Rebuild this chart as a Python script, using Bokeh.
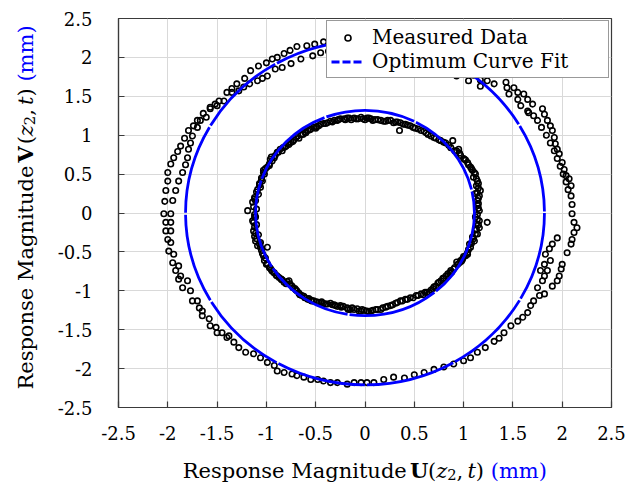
import math
from bokeh.plotting import figure
from bokeh.layouts import column, row
from bokeh.models import ColumnDataSource, FixedTicker, Label, Legend, LegendItem, Range1d
from bokeh.embed import file_html
from bokeh.resources import INLINE

# ---------------- data ----------------
tick_values = [-2.5, -2.0, -1.5, -1.0, -0.5, 0.0, 0.5, 1.0, 1.5, 2.0, 2.5]
tick_labels = ["-2.5", "-2", "-1.5", "-1", "-0.5", "0", "0.5", "1", "1.5", "2", "2.5"]

# measured data, outer (larger) orbit
outer_u = [
    -0.42, -0.51, -0.59, -0.69, -0.76, -0.82, -0.89, -0.94, -1.00, -1.08, -1.16, -1.22, -1.30, -1.35, -1.40, -1.48,
    -1.52, -1.57, -1.64, -1.70, -1.74, -1.79, -1.83, -1.87, -1.90, -1.94, -1.97, -2.00, -2.00, -2.02, -2.03, -2.04,
    -0.45, -0.53, -0.65, -0.75, -0.84, -0.91, -0.99, -1.04, -1.09, -1.17, -1.23, -1.28, -1.35, -1.43, -1.50, -1.57,
    -1.61, -1.67, -1.70, -1.75, -1.77, -1.79, -1.80, -1.82, -1.85, -1.89, -1.92, -1.95, -1.97,
    -0.33, -0.24, -0.12, 0.00, 0.12, 0.25, 0.38, 0.50, 0.62, 0.75, 0.88, 1.00, 1.10, 1.17,
    -0.37, -0.25, -0.13, 0.00, 0.13, 0.26, 0.40, 0.53, 0.66, 0.80, 0.93, 1.05, 1.17,
    1.24, 1.31, 1.43, 1.44, 1.51, 1.55, 1.61, 1.65, 1.70, 1.46, 1.55, 1.58, 1.65, 1.66, 1.71, 1.75,
    1.80, 1.82, 1.85, 1.88, 1.90, 1.92, 1.93, 1.95, 1.97, 2.00, 2.02, 2.04, 2.07, 2.09, 2.09, 2.10,
    2.10, 2.12, 2.15, 2.12, 2.10, 2.09, 2.05,
    1.79, 1.84, 1.88, 1.92, 1.95, 1.98, 2.01, 2.04, 2.06,
    1.95, 1.90, 1.87, 1.83, 1.88, 1.82, 1.78, 2.00, 1.99, 1.97, 1.95, 1.90, 1.85, 1.82, 1.80, 1.75,
    1.82, 1.77, 1.71, 1.68, 1.65, 1.60, 1.55, 1.48, 1.41, 1.36, 1.31, 1.22, 1.14, 1.07, 1.00, 0.90,
    0.80, 0.70, 0.60, 0.50, 0.40, 0.29, 0.19, 0.09,
    -0.42, -0.35, -0.28, -0.18, -0.11, -0.04, 0.02,
    -0.48, -0.55, -0.62, -0.69, -0.74, -0.82, -0.89, -0.92, -0.99, -1.06, -1.13, -1.21, -1.28, -1.33, -1.38, -1.40,
    -1.45, -1.50, -1.51, -1.57, -1.58, -1.65, -1.65, -1.68, -1.70, -1.75, -1.77, -1.85, -1.80, -1.89, -1.87, -1.92,
    -1.89, -1.95, -1.94, -1.99, -1.97, -2.00, -1.97, -2.02, -1.97, -2.02,
]
outer_v = [
    2.20, 2.17, 2.15, 2.14, 2.09, 2.05, 2.00, 1.98, 1.93, 1.89, 1.83, 1.73, 1.66, 1.60, 1.55, 1.44,
    1.40, 1.36, 1.28, 1.19, 1.12, 1.06, 0.96, 0.86, 0.79, 0.71, 0.63, 0.52, 0.41, 0.29, 0.15, -0.01,
    2.06, 2.02, 1.98, 1.92, 1.87, 1.85, 1.76, 1.73, 1.70, 1.66, 1.62, 1.57, 1.55, 1.44, 1.38, 1.34,
    1.23, 1.19, 1.10, 0.99, 0.90, 0.82, 0.71, 0.62, 0.52, 0.41, 0.29, 0.16, -0.01,
    2.21, 2.22, 2.22, 2.21, 2.19, 2.16, 2.12, 2.08, 2.03, 1.97, 1.90, 1.83, 1.77, 1.71,
    2.08, 2.10, 2.10, 2.09, 2.07, 2.04, 1.99, 1.95, 1.89, 1.82, 1.76, 1.70, 1.63,
    1.70, 1.66, 1.68, 1.61, 1.61, 1.55, 1.53, 1.46, 1.40, 1.53, 1.46, 1.38, 1.31, 1.29, 1.25, 1.19,
    1.34, 1.27, 1.19, 1.12, 1.06, 0.97, 0.89, 0.82, 0.76, 0.65, 0.56, 0.48, 0.44, 0.35, 0.22, 0.11,
    -0.01, -0.12, -0.19, -0.25, -0.34, -0.40, -0.51,
    1.10, 1.00, 0.90, 0.80, 0.70, 0.60, 0.50, 0.40, 0.30,
    -0.32, -0.40, -0.46, -0.53, -0.61, -0.66, -0.74, -0.66, -0.72, -0.81, -0.87, -0.94, -0.74, -0.81, -0.87, -0.96,
    -1.04, -1.06, -1.13, -1.19, -1.28, -1.34, -1.39, -1.45, -1.54, -1.61, -1.65, -1.73, -1.79, -1.86, -1.90, -1.94,
    -1.98, -2.01, -2.05, -2.08, -2.12, -2.11, -2.14, -2.18,
    -2.16, -2.18, -2.18, -2.20, -2.18, -2.18, -2.18,
    -2.14, -2.14, -2.11, -2.09, -2.07, -2.05, -2.03, -1.96, -1.92, -1.86, -1.81, -1.79, -1.73, -1.66, -1.58, -1.60,
    -1.54, -1.54, -1.47, -1.45, -1.36, -1.32, -1.26, -1.22, -1.13, -1.13, -1.00, -0.96, -0.87, -0.85, -0.81, -0.74,
    -0.68, -0.64, -0.53, -0.49, -0.38, -0.34, -0.23, -0.23, -0.12, -0.12,
]

# measured data, inner (smaller) orbit: edges of the band
inner_u = [
    -1.19, -1.14, -1.11, -1.08, -1.06, -1.04, -1.02, -0.99, -0.94, -0.91, -0.86, -0.80, -0.75, -0.70, -0.65, -0.58,
    -0.52, -0.45, -0.38, -0.31, -0.25, -0.18, -0.11, -0.04, 0.02,
    0.06, 0.16, 0.26, 0.35, 0.36, 0.46, 0.57, 0.67, 0.77, 0.89, 0.87, 0.95, 0.97, 1.04, 1.07, 1.12,
    1.14, 1.17, 1.16, 1.14, 1.16, 1.16, 1.24, 1.16, 1.14, 1.11, 1.07, 1.04, 0.97, 0.90, 0.84,
    1.04, 0.99, 0.94, 0.87, 0.82, 0.77, 0.72, 0.65, 0.57, 0.46, 0.36, 0.26, 0.16, 0.06,
    0.02, -0.04, -0.11, -0.18, -0.25, -0.31, -0.38, -0.45, -0.52, -0.58, -0.64, -0.69, -0.74, -0.77, -0.82, -0.87,
    -0.92, -0.97, -1.02, -0.99, -1.06, -1.11, -1.13, -1.14,
    -1.10, -1.12, -1.10, -1.08, -1.06, -1.09, -1.05, -1.03, -0.97, -0.95, -0.89, -0.83, -0.78, -0.72, -0.68, -0.61,
    -0.55, -0.49, -0.42, -0.35, -0.28, -0.21, -0.14, -0.07, 0.00, 0.10, 0.21, 0.31, 0.41, 0.51, 0.62, 0.72,
    0.82, 0.93, 1.00, 1.02, 1.09, 1.10, 1.13, 1.12, 1.14, 1.12, 1.13, 1.12, 1.09, 1.06, 1.00, 0.93,
    0.86, 0.79, 0.74, 0.69, 0.61, 0.52, 0.41, 0.31, 0.21, 0.11, -0.01, -0.08, -0.15, -0.22, -0.28, -0.35,
    -0.42, -0.49, -0.55, -0.61, -0.67, -0.71, -0.80, -0.85, -0.90, -0.95, -1.00, -1.04, -1.09, -1.12, -1.11, -1.12,
    -1.07,
]
inner_v = [
    0.03, 0.14, 0.16, 0.24, 0.33, 0.41, 0.50, 0.59, 0.67, 0.74, 0.82, 0.86, 0.91, 0.97, 1.01, 1.06,
    1.10, 1.14, 1.16, 1.19, 1.21, 1.22, 1.22, 1.23, 1.22,
    1.21, 1.19, 1.19, 1.06, 1.16, 1.12, 1.06, 0.99, 0.93, 0.93, 0.84, 0.82, 0.74, 0.65, 0.59, 0.50,
    0.41, 0.29, 0.22, 0.16, 0.03, -0.10, -0.12, -0.19, -0.27, -0.36, -0.44, -0.53, -0.61, -0.72, -0.81,
    -0.51, -0.59, -0.66, -0.74, -0.81, -0.87, -0.94, -1.02, -1.04, -1.09, -1.13, -1.19, -1.24, -1.26,
    -1.26, -1.26, -1.24, -1.22, -1.19, -1.18, -1.17, -1.15, -1.13, -1.11, -1.06, -1.00, -0.94, -0.87, -0.89, -0.83,
    -0.77, -0.70, -0.61, -0.44, -0.44, -0.36, -0.23, -0.10,
    0.05, -0.05, -0.15, -0.28, -0.38, 0.30, 0.45, 0.55, 0.63, 0.72, 0.78, 0.84, 0.89, 0.94, 0.99, 1.04,
    1.08, 1.11, 1.15, 1.18, 1.19, 1.21, 1.20, 1.21, 1.20, 1.20, 1.18, 1.17, 1.14, 1.09, 1.03, 0.96,
    0.90, 0.80, 0.70, 0.68, 0.55, 0.46, 0.35, 0.25, 0.10, -0.05, -0.14, -0.22, -0.31, -0.40, -0.56, -0.63,
    -0.77, -0.84, -0.90, -0.97, -1.02, -1.06, -1.11, -1.16, -1.21, -1.24, -1.25, -1.23, -1.24, -1.20, -1.20, -1.16,
    -1.16, -1.14, -1.12, -1.09, -1.03, -0.97, -0.91, -0.85, -0.80, -0.73, -0.66, -0.52, -0.42, -0.30, -0.05, 0.18,
    0.38,
]

# measured data, inner orbit: middle of the band
inner_mid_u = [
    -1.13, -1.12, -1.10, -1.07, -1.05, -1.03, -1.01, -0.97, -0.96, -0.92,
    -0.88, -0.84, -0.81, -0.77, -0.73, -0.67, -0.63, -0.60, -0.56, -0.50,
    -0.47, -0.40, -0.33, -0.27, -0.20, -0.16, -0.09, -0.02, 0.04, 0.08,
    0.13, 0.19, 0.23, 0.29, 0.33, 0.39, 0.43, 0.49, 0.54, 0.60,
    0.64, 0.70, 0.75, 0.80, 0.85, 0.91, 0.96, 1.01, 1.05, 1.08,
    1.11, 1.13, 1.15, 1.15, 1.14, 1.15, 1.15, 1.15, 1.14, 1.14,
    1.15, 1.13, 1.12, 1.10, 1.08, 1.05, 1.02, 0.98, 0.96, 0.91,
    0.88, 0.84, 0.80, 0.75, 0.70, 0.67, 0.63, 0.59, 0.54, 0.49,
    0.43, 0.38, 0.33, 0.28, 0.23, 0.18, 0.13, 0.08, 0.04, -0.03,
    -0.06, -0.13, -0.17, -0.24, -0.30, -0.33, -0.40, -0.44, -0.47, -0.54,
    -0.57, -0.62, -0.66, -0.70, -0.73, -0.76, -0.79, -0.84, -0.89, -0.94,
    -0.96, -0.99, -1.01, -1.03, -1.05, -1.07, -1.10, -1.11, -1.12, -1.13,
    -1.12,
]
inner_mid_v = [
    0.08, 0.20, 0.27, 0.36, 0.43, 0.52, 0.57, 0.61, 0.69, 0.71,
    0.78, 0.80, 0.85, 0.88, 0.92, 0.96, 1.01, 1.03, 1.07, 1.09,
    1.12, 1.15, 1.17, 1.20, 1.20, 1.22, 1.21, 1.21, 1.22, 1.19,
    1.20, 1.18, 1.19, 1.16, 1.17, 1.14, 1.13, 1.10, 1.08, 1.05,
    1.01, 0.97, 0.94, 0.91, 0.87, 0.80, 0.77, 0.69, 0.62, 0.57,
    0.52, 0.44, 0.38, 0.32, 0.26, 0.19, 0.12, 0.06, -0.02, -0.08,
    -0.15, -0.21, -0.27, -0.33, -0.39, -0.47, -0.55, -0.62, -0.64, -0.70,
    -0.76, -0.78, -0.84, -0.89, -0.95, -0.99, -1.02, -1.05, -1.06, -1.09,
    -1.11, -1.13, -1.15, -1.18, -1.20, -1.22, -1.24, -1.25, -1.27, -1.24,
    -1.26, -1.22, -1.24, -1.21, -1.19, -1.18, -1.17, -1.14, -1.15, -1.13,
    -1.10, -1.07, -1.05, -0.99, -0.96, -0.91, -0.88, -0.86, -0.81, -0.75,
    -0.71, -0.65, -0.58, -0.55, -0.48, -0.40, -0.33, -0.26, -0.18, -0.12,
    -0.02,
]

# optimum curve fit (ellipses): centre and semi-axes
fit_center_u = [0.0, 0.0]
fit_center_v = [0.0, 0.0]
fit_radius_u = [1.11, 1.82]
fit_radius_v = [1.32, 2.21]

# ---------------- style / layout ----------------
FONT = "DejaVu Serif"
AXIS_COLOR = "#3a3a3a"
BLUE = "#0000ff"
W, H = 642, 484
FRAME_TOP, FRAME_BOTTOM = 18, 407
YLAB_W = 48          # strip holding the vertical axis title
XLAB_H = 32          # strip holding the horizontal axis title
MAIN_W, MAIN_H = W - YLAB_W, H - XLAB_H

p = figure(
    width=MAIN_W, height=MAIN_H,
    x_range=Range1d(-2.5, 2.5), y_range=Range1d(-2.5, 2.5),
    output_backend="svg", toolbar_location=None,
    min_border_left=118 - YLAB_W, min_border_right=31, min_border_top=FRAME_TOP,
    min_border_bottom=MAIN_H - FRAME_BOTTOM,
)
p.background_fill_color = "white"
p.border_fill_color = "white"
p.outline_line_color = AXIS_COLOR
p.outline_line_width = 1.2

for ax in (p.xaxis[0], p.yaxis[0]):
    ax.ticker = FixedTicker(ticks=tick_values)
    ax.major_label_overrides = dict(zip(tick_values, tick_labels))
    ax.major_tick_in = 6
    ax.major_tick_out = 0
    ax.minor_tick_line_color = None
    ax.axis_line_color = AXIS_COLOR
    ax.axis_line_width = 1.2
    ax.major_tick_line_color = AXIS_COLOR
    ax.major_tick_line_width = 1.2
    ax.major_label_text_font = FONT
    ax.major_label_text_font_size = "18px"
    ax.major_label_text_color = "black"
p.yaxis.major_label_standoff = 26
p.xaxis.major_label_standoff = 18

p.grid.grid_line_color = "#d9d9d9"
p.grid.grid_line_width = 1

src = ColumnDataSource(dict(u=outer_u + inner_u + inner_mid_u, v=outer_v + inner_v + inner_mid_v))
r_pts = p.scatter("u", "v", source=src, marker="circle", size=5.5,
                  fill_color=None, line_color="black", line_width=1.6)

fit_src = ColumnDataSource(dict(
    x=fit_center_u, y=fit_center_v,
    w=[2 * r for r in fit_radius_u], h=[2 * r for r in fit_radius_v],
))
p.ellipse(x="x", y="y", width="w", height="h", source=fit_src,
          fill_color=None, line_color=BLUE, line_width=2.8, line_dash="90 2")

# legend sample for the dashed fit line (draws nothing in the plot itself)
nan = float("nan")
r_leg = p.line(x=[nan, nan], y=[nan, nan], line_color=BLUE, line_width=2.8, line_dash="8 3")

legend = Legend(
    items=[LegendItem(label="Measured Data", renderers=[r_pts]),
           LegendItem(label="Optimum Curve Fit", renderers=[r_leg])],
    location="top_right", margin=2, padding=4, spacing=0,
    label_text_font=FONT, label_text_font_size="20px", label_text_color="black",
    glyph_width=33, glyph_height=15, label_height=24, label_standoff=8, label_width=232,
    border_line_color="#333333", border_line_width=1, background_fill_alpha=1.0,
)
p.add_layout(legend)

# ---------------- axis titles (rich text built from pieces) ----------------
def strip(width, height, y_range):
    f = figure(width=width, height=height, x_range=Range1d(0, width), y_range=y_range,
               output_backend="svg", toolbar_location=None, min_border=0,
               x_axis_type=None, y_axis_type=None, title=None)
    f.outline_line_color = None
    f.background_fill_color = "white"
    f.border_fill_color = "white"
    f.grid.visible = False
    return f

LBL_PX = 21
def pieces(letter):
    # text, advance (em), style, color, size factor, subscript drop (em)
    return [
        ("Response Magnitude", 10.818, "normal", "black", 1.0, 0.0),
        (letter, 0.86, "bold", "black", 1.0, 0.0),
        ("(", 0.39, "normal", "black", 1.0, 0.0),
        ("z", 0.525, "italic", "black", 1.0, 0.0),
        ("2", 0.445, "normal", "black", 0.7, 0.2),
        (",", 0.518, "normal", "black", 1.0, 0.0),
        ("t", 0.402, "italic", "black", 1.0, 0.0),
        (")", 0.708, "normal", "black", 1.0, 0.0),
        ("(mm)", 2.676, "normal", BLUE, 1.0, 0.0),
    ]

def add_title(fig, letter, vertical, centre, baseline):
    items = pieces(letter)
    total = sum(it[1] for it in items) * LBL_PX
    pos = -total / 2.0
    for text, adv, style, color, fac, drop in items:
        size = LBL_PX * fac
        d = drop * LBL_PX
        if not vertical:
            lab = Label(x=centre + pos, y=baseline - d, text=text, text_font=FONT,
                        text_font_size=f"{size:.1f}px", text_font_style=style, text_color=color,
                        text_align="left", text_baseline="alphabetic")
        else:
            # y range of this strip is expressed in page pixels (downwards)
            lab = Label(x=baseline + d, y=centre - pos, angle=math.pi / 2, angle_units="rad",
                        text=text, text_font=FONT,
                        text_font_size=f"{size:.1f}px", text_font_style=style, text_color=color,
                        text_align="left", text_baseline="alphabetic")
        fig.add_layout(lab)
        pos += adv * LBL_PX

# the strip's frame is aligned with the main frame, so its y range is the frame's pixel rows
ylab = strip(YLAB_W, MAIN_H, Range1d(FRAME_BOTTOM, FRAME_TOP))
add_title(ylab, "V", vertical=True, centre=207, baseline=25)

xlab = strip(W, XLAB_H, Range1d(0, XLAB_H))
add_title(xlab, "U", vertical=False, centre=364.3, baseline=XLAB_H - (470 - MAIN_H))

layout = column(row(ylab, p, spacing=0), xlab, spacing=0)
open("out.html", "w").write(file_html(layout, INLINE))
